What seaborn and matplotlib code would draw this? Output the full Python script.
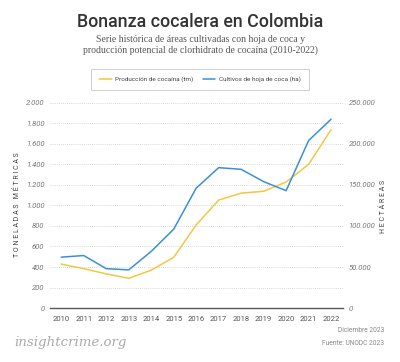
import numpy as np
import pandas as pd
import matplotlib
matplotlib.use("Agg")
import matplotlib.pyplot as plt
import seaborn as sns
from matplotlib.ticker import FuncFormatter

# Data
years = [2010, 2011, 2012, 2013, 2014, 2015, 2016, 2017, 2018, 2019, 2020, 2021, 2022]
produccion_tm = [428, 384, 333, 290, 369, 494, 810, 1052, 1120, 1138, 1228, 1400, 1738]
cultivos_ha = [62000, 64000, 48000, 46500, 69000, 96000, 146000, 171000, 169000, 154000, 143000, 204000, 230000]

left_ticks = [0, 200, 400, 600, 800, 1000, 1200, 1400, 1600, 1800, 2000]
right_ticks = [0, 50000, 100000, 150000, 200000, 250000]

YELLOW = "#f2c744"
BLUE = "#3b8fd9"

df = pd.DataFrame({"year": years, "tm": produccion_tm, "ha": cultivos_ha})

sns.set_theme(style="white")
plt.rcParams['font.family'] = ['Roboto', 'DejaVu Sans']

fig = plt.figure(figsize=(4.0, 3.62), dpi=100)
ax = fig.add_axes([0.125, 0.149, 0.7325, 0.567])
ax2 = ax.twinx()

sns.lineplot(data=df, x="year", y="tm", ax=ax, color=YELLOW, lw=1.1, label="Producción de cocaína (tm)", legend=False)
sns.lineplot(data=df, x="year", y="ha", ax=ax2, color=BLUE, lw=1.1, label="Cultivos de hoja de coca (ha)", legend=False)

ax.set_xlim(2009.5, 2022.53)
ax.set_ylim(0, 2000)
ax2.set_ylim(0, 250000)
ax.set_xticks(years)
ax.set_yticks(left_ticks)
ax2.set_yticks(right_ticks)

fmt = FuncFormatter(lambda v, p: f"{int(v):,}".replace(",", "."))
ax.yaxis.set_major_formatter(fmt)
ax2.yaxis.set_major_formatter(fmt)

for a in (ax, ax2):
    for s in a.spines.values():
        s.set_visible(False)
    a.set_xlabel("")
    a.set_ylabel("")
    a.tick_params(length=0)
ax.spines["bottom"].set_visible(True)
ax.spines["bottom"].set_color("#555555")
ax.spines["bottom"].set_linewidth(1.0)

ax.grid(axis="y", color="#cccccc", lw=0.6, ls=(0, (1, 1.5)))
ax.set_axisbelow(True)

for lbl in ax.get_yticklabels() + ax2.get_yticklabels():
    lbl.set_fontsize(5.5)
    lbl.set_color("#777777")
    lbl.set_fontstyle("italic")
for lbl in ax.get_xticklabels():
    lbl.set_fontsize(5.5)
    lbl.set_color("#555555")
ax.tick_params(axis="x", pad=6)
ax.tick_params(axis="y", pad=4)
ax2.tick_params(axis="y", pad=4)

fig.text(0.045, 0.434, "T O N E L A D A S   M É T R I C A S", rotation=90, ha="center", va="center",
         fontsize=5, color="#444444")
fig.text(0.958, 0.43, "H E C T Á R E A S", rotation=90, ha="center", va="center",
         fontsize=5, color="#444444")

# Legend
h1, l1 = ax.get_legend_handles_labels()
h2, l2 = ax2.get_legend_handles_labels()
leg = fig.legend(h1 + h2, l1 + l2, loc="center", bbox_to_anchor=(0.5, 0.781), ncol=2,
                 fontsize=4.6, frameon=True, fancybox=False, edgecolor="#bbbbbb",
                 handlelength=2.0, columnspacing=1.4, borderpad=1.2, handletextpad=0.6)
leg.get_frame().set_linewidth(0.6)
for t in leg.get_texts():
    t.set_color("#444444")

fig.text(0.5, 0.94, "Bonanza cocalera en Colombia", ha="center", va="center",
         fontsize=12.8, fontweight="medium", color="#333333")
fig.text(0.5, 0.875, "Serie histórica de áreas cultivadas con hoja de coca y\n"
         "producción potencial de clorhidrato de cocaína (2010-2022)",
         ha="center", va="center", fontsize=7.0, color="#555555",
         family=["Liberation Serif", "DejaVu Serif"], linespacing=1.25)

fig.text(0.037, 0.055, "insightcrime.org", ha="left", va="center", fontsize=9.6,
         color="#aaaaaa", fontstyle="italic", family=["DejaVu Serif"])
fig.text(0.96, 0.087, "Diciembre 2023", ha="right", va="center", fontsize=4.8, color="#888888")
fig.text(0.96, 0.05, "Fuente: UNODC 2023", ha="right", va="center", fontsize=4.8, color="#888888")

fig.savefig("out.png", dpi=100, facecolor="white")
